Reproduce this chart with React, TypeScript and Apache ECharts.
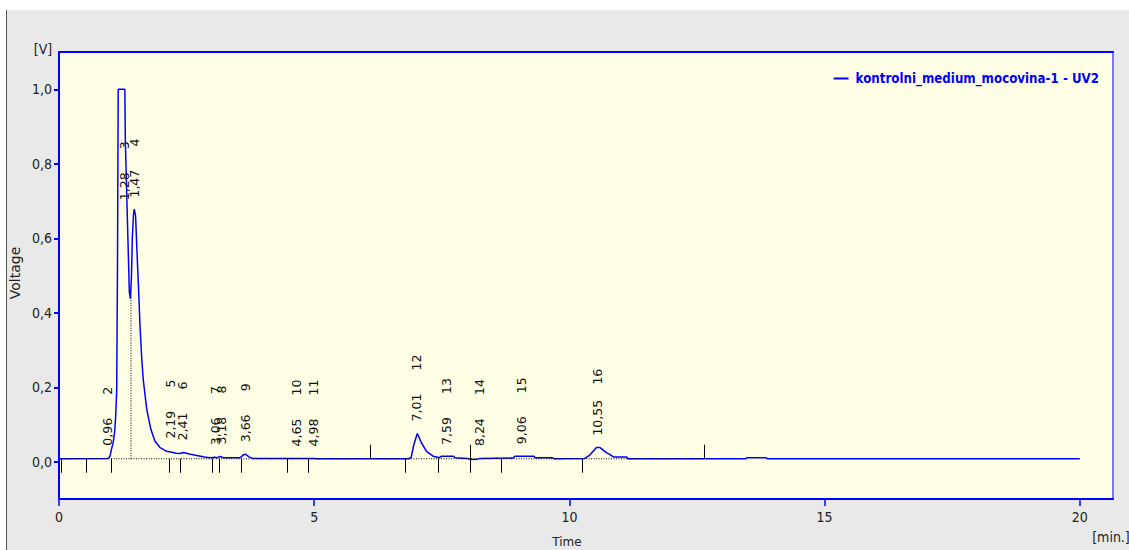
import React, { useEffect, useRef } from "react";
import * as echarts from "echarts";

// ---- data ----
const seriesName = "kontrolni_medium_mocovina-1 - UV2";

const times = [
  0.0, 0.96, 1.0, 1.03, 1.06, 1.09, 1.11, 1.13, 1.145, 1.16, 1.29, 1.3, 1.34, 1.378, 1.4, 1.42, 1.436, 1.46,
  1.475, 1.5, 1.534, 1.56, 1.587, 1.62, 1.65, 1.72, 1.8, 1.88, 1.98, 2.11, 2.19, 2.3, 2.37, 2.44, 2.55, 2.7,
  2.85, 2.96, 3.06, 3.1, 3.16, 3.22, 3.55, 3.62, 3.66, 3.72, 3.8, 4.65, 4.98, 5.05, 6.85, 6.9, 6.95, 7.02,
  7.1, 7.2, 7.33, 7.46, 7.49, 7.72, 7.76, 8.0, 8.06, 8.2, 8.25, 8.9, 8.93, 9.3, 9.33, 9.66, 9.7, 10.3, 10.4,
  10.53, 10.6, 10.73, 10.79, 10.86, 11.12, 11.15, 13.45, 13.48, 13.85, 13.88, 20.0,
];
const volts = [
  0.008, 0.009, 0.015, 0.035, 0.05, 0.08, 0.12, 0.19, 0.5, 1.0, 1.0, 0.86, 0.65, 0.455, 0.437, 0.5, 0.6, 0.665,
  0.678, 0.66, 0.544, 0.46, 0.365, 0.28, 0.221, 0.14, 0.087, 0.055, 0.038, 0.028, 0.026, 0.023, 0.022, 0.025,
  0.021, 0.017, 0.013, 0.011, 0.012, 0.011, 0.014, 0.011, 0.011, 0.019, 0.02, 0.013, 0.009, 0.009, 0.009,
  0.008, 0.008, 0.012, 0.045, 0.076, 0.051, 0.028, 0.015, 0.011, 0.015, 0.015, 0.011, 0.009, 0.006, 0.007,
  0.009, 0.01, 0.015, 0.015, 0.011, 0.011, 0.008, 0.009, 0.018, 0.038, 0.038, 0.024, 0.02, 0.013, 0.013,
  0.008, 0.008, 0.011, 0.011, 0.008, 0.008,
];

const xTicks = [0, 5, 10, 15, 20];
const yTicks = [0, 0.2, 0.4, 0.6, 0.8, 1.0];

const peakNumbers = ["2", "3", "4", "5", "6", "7", "8", "9", "10", "11", "12", "13", "14", "15", "16"];
const peakTimes = [0.96, 1.28, 1.47, 2.19, 2.41, 3.06, 3.18, 3.66, 4.65, 4.98, 7.01, 7.59, 8.24, 9.06, 10.55];
const peakApex = [0.011, 0.67, 0.677, 0.03, 0.025, 0.012, 0.014, 0.02, 0.009, 0.009, 0.076, 0.013, 0.01, 0.015, 0.038];

const markerTimes = [0.04, 0.52, 1.01, 2.16, 2.37, 2.99, 3.13, 3.56, 4.46, 4.88, 6.1, 6.77, 7.42, 8.06, 8.65, 10.24, 12.63];
const markerDir = ["down", "down", "down", "down", "down", "down", "down", "down", "down", "down", "up", "down", "down", "both", "down", "down", "up"];

const baselineLevel = 0.008;
const baselineStart = 0.04;
const baselineEnd = 12.63;
const valleyTime = 1.41;
const valleyLevel = 0.437;

const condensed = "'DejaVu Sans Condensed', 'Liberation Sans Narrow', 'DejaVu Sans', sans-serif";
const plain = "'DejaVu Sans', sans-serif";
const fmt = (v: number) => v.toFixed(1).replace(".", ",");

export default function App() {
  const ref = useRef<HTMLDivElement>(null);

  useEffect(() => {
    if (!ref.current) return;
    const chart = echarts.init(ref.current, undefined, { renderer: "svg" });

    const option: any = {
      animation: false,
      backgroundColor: "transparent",
      grid: { left: 59, right: 16, top: 52, bottom: 51, show: true, backgroundColor: "#ffffe6", borderWidth: 0 },
      legend: {
        data: [seriesName],
        right: 25,
        top: 67,
        icon: "rect",
        itemWidth: 15,
        itemHeight: 2,
        itemGap: 7,
        selectedMode: false,
        textStyle: { color: "#0000ff", fontWeight: "bold", fontSize: 13.2, fontFamily: condensed, padding: [0, 0, 0, 2] },
      },
      xAxis: [
        {
          type: "value",
          min: 0,
          max: 20.65,
          position: "bottom",
          axisLine: { show: true, onZero: false, lineStyle: { color: "#0000ff", width: 2 } },
          axisTick: { show: true, length: 7, customValues: xTicks, lineStyle: { color: "#0000ff", width: 1.5 } },
          axisLabel: { customValues: xTicks, color: "#222", fontSize: 14, fontFamily: condensed, margin: 11, formatter: (v: number) => String(v) },
          splitLine: { show: false },
        },
        {
          type: "value",
          min: 0,
          max: 20.65,
          position: "top",
          axisLine: { show: true, onZero: false, lineStyle: { color: "#0000ff", width: 2 } },
          axisTick: { show: false },
          axisLabel: { show: false },
          splitLine: { show: false },
        },
      ],
      yAxis: [
        {
          type: "value",
          min: -0.1,
          max: 1.1,
          position: "left",
          axisLine: { show: true, onZero: false, lineStyle: { color: "#0000ff", width: 2 } },
          axisTick: { show: true, length: 5, customValues: yTicks, lineStyle: { color: "#0000ff", width: 2 } },
          axisLabel: { customValues: yTicks, color: "#222", fontSize: 14, fontFamily: condensed, margin: 7, formatter: fmt },
          splitLine: { show: false },
        },
        {
          type: "value",
          min: -0.1,
          max: 1.1,
          position: "right",
          axisLine: { show: true, onZero: false, lineStyle: { color: "#7878ff", width: 2 } },
          axisTick: { show: false },
          axisLabel: { show: false },
          splitLine: { show: false },
        },
      ],
      series: [
        {
          name: seriesName,
          type: "line",
          data: times.map((t, i) => [t, volts[i]]),
          showSymbol: false,
          symbol: "none",
          lineStyle: { color: "#0000ff", width: 1.5 },
          itemStyle: { color: "#0000ff" },
          z: 3,
          silent: true,
        },
        {
          name: "baseline",
          type: "line",
          data: [
            [baselineStart, baselineLevel],
            [baselineEnd, baselineLevel],
          ],
          showSymbol: false,
          symbol: "none",
          lineStyle: { color: "#000", width: 1, type: [1, 1.5] },
          z: 4,
          silent: true,
        },
        {
          name: "valley",
          type: "line",
          data: [
            [valleyTime, baselineLevel],
            [valleyTime, valleyLevel],
          ],
          showSymbol: false,
          symbol: "none",
          lineStyle: { color: "#000", width: 1, type: [1, 1.5] },
          z: 4,
          silent: true,
        },
        {
          name: "markers",
          type: "custom",
          data: markerTimes.map((t, i) => [t, baselineLevel, i]),
          encode: { x: 0, y: 1 },
          z: 5,
          silent: true,
          renderItem: (_p: any, api: any) => {
            const p = api.coord([api.value(0), api.value(1)]);
            const dir = markerDir[api.value(2)];
            const x = Math.round(p[0]) + 0.5;
            const y1 = dir === "up" || dir === "both" ? p[1] - 14 : p[1];
            const y2 = dir === "down" || dir === "both" ? p[1] + 14 : p[1];
            return { type: "line", shape: { x1: x, y1, x2: x, y2 }, style: { stroke: "#000", lineWidth: 1 } };
          },
        },
        {
          name: "peakLabels",
          type: "custom",
          data: peakTimes.map((t, i) => [t, peakApex[i], i]),
          encode: { x: 0, y: 1 },
          z: 6,
          silent: true,
          renderItem: (_p: any, api: any) => {
            const p = api.coord([api.value(0), api.value(1)]);
            const i = api.value(2);
            const rt = peakTimes[i].toFixed(2).replace(".", ",");
            return {
              type: "group",
              children: [
                {
                  type: "text",
                  x: p[0],
                  y: p[1] - 12,
                  rotation: Math.PI / 2,
                  style: { text: rt, fill: "#111", font: `12.5px ${plain}`, align: "left", verticalAlign: "middle" },
                },
                {
                  type: "text",
                  x: p[0],
                  y: p[1] - 63,
                  rotation: Math.PI / 2,
                  style: { text: peakNumbers[i], fill: "#111", font: `12.5px ${plain}`, align: "left", verticalAlign: "middle" },
                },
              ],
            };
          },
        },
      ],
      graphic: [
        { type: "text", x: 43, y: 49, style: { text: "[V]", fill: "#222", font: `14px ${condensed}`, align: "center", verticalAlign: "middle" } },
        {
          type: "text",
          x: 15,
          y: 273,
          rotation: Math.PI / 2,
          style: { text: "Voltage", fill: "#222", font: `14px ${plain}`, align: "center", verticalAlign: "middle" },
        },
        { type: "text", x: 567, y: 542, style: { text: "Time", fill: "#222", font: `12px ${plain}`, align: "center", verticalAlign: "middle" } },
        { type: "text", x: 1111, y: 537, style: { text: "[min.]", fill: "#222", font: `14px ${condensed}`, align: "center", verticalAlign: "middle" } },
      ],
    };

    chart.setOption(option);
    return () => chart.dispose();
  }, []);

  return (
    <div style={{ position: "absolute", left: 0, top: 0, width: 1129, height: 550, background: "#ffffff", overflow: "hidden" }}>
      <div
        style={{
          position: "absolute",
          left: 6,
          top: 10,
          width: 1123,
          height: 540,
          background: "#e9e9e9",
          borderLeft: "1.5px solid #555",
        }}
      />
      <div ref={ref} style={{ position: "absolute", left: 0, top: 0, width: 1129, height: 550 }} />
    </div>
  );
}
